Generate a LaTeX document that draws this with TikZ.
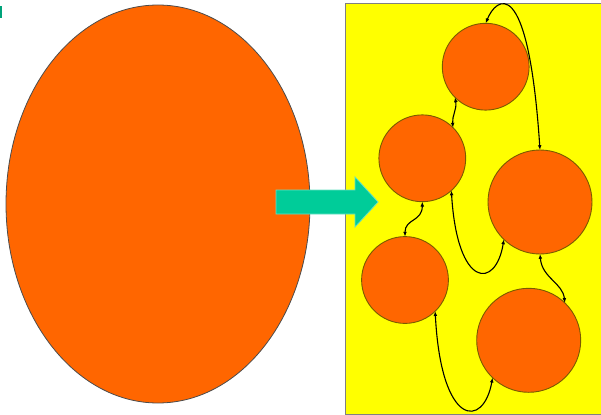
\documentclass[tikz,border=0pt]{standalone}
\usetikzlibrary{arrows.meta}
\definecolor{blobfill}{HTML}{FF6600}
\definecolor{blobline}{HTML}{7A5A00}
\definecolor{teal}{HTML}{00CC99}
\definecolor{pad}{HTML}{FFFF00}
\begin{document}
\begin{tikzpicture}[x=0.5mm,y=-0.5mm,
    blob/.style={circle,fill=blobfill,draw=blobline,line width=0.45mm,inner sep=0pt,outer sep=0pt},
    link/.style={{Latex[length=2.4mm,width=1.9mm]}-{Latex[length=2.4mm,width=1.9mm]},line width=0.55mm}]
  \useasboundingbox (0,0) rectangle (601,415);
  \fill[teal!80!black] (0,6) rectangle (1.5,18);
  \draw[fill=blobfill,draw=black!70,line width=0.4mm] (158,204) ellipse [x radius=152,y radius=199];
  \draw[fill=pad,draw=black!50,line width=0.5mm] (345,4) rectangle (604,414);
  \draw[fill=teal,draw=teal!60!white,line width=0.4mm]
    (276,190) -- (355,190) -- (355,177) -- (378,202) -- (355,227) -- (355,214) -- (276,214) -- cycle;
  % the five small pieces
  \node[blob,minimum size=43.4mm] (top) at (485.7,66.7) {};
  \node[blob,minimum size=43.4mm] (mid) at (422.3,158.3) {};
  \node[blob,minimum size=52mm] (right) at (540,202) {};
  \node[blob,minimum size=43.4mm] (low) at (405,280) {};
  \node[blob,minimum size=52mm] (corner) at (528.7,340.3) {};
  \draw[link] (top.north) .. controls +(10,-25) and +(-12,-180) .. (right.north);
  \draw[link] (top.225) .. controls +(2,12) and +(-1,-12) .. (mid.45);
  \draw[link] (mid.south) .. controls +(0,20) and +(0,-18) .. (low.north);
  \draw[link] (mid.-48) .. controls +(6,99) and +(-8,50) .. (right.226);
  \draw[link] (right.south) .. controls +(2,24) and +(-2,-20) .. (corner.46);
  \draw[link] (low.-46) .. controls +(6,117) and +(-9,51) .. (corner.226);
\end{tikzpicture}
\end{document}
